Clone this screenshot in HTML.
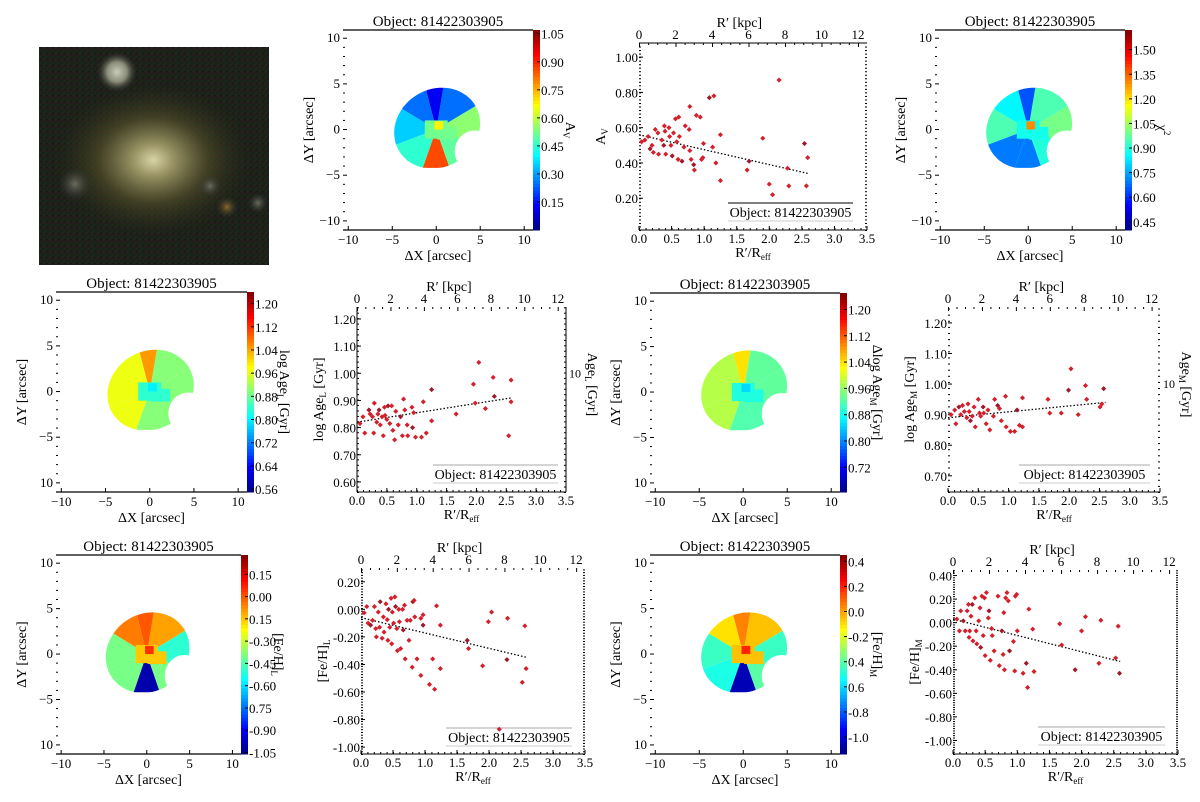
<!DOCTYPE html>
<html><head><meta charset="utf-8">
<style>
html,body{margin:0;padding:0;background:#fff;}
svg{display:block;font-family:"Liberation Serif","DejaVu Serif",serif;}
</style></head>
<body>
<svg id="fig" width="1200" height="802" viewBox="0 0 1200 802" xmlns="http://www.w3.org/2000/svg">
<defs>
<radialGradient id="gBulge" cx="50%" cy="50%" r="50%"><stop offset="0" stop-color="#d8d4a8"/><stop offset="0.2" stop-color="#9a9464"/><stop offset="0.55" stop-color="#4a4828" stop-opacity="0.8"/><stop offset="1" stop-color="#262818" stop-opacity="0"/></radialGradient>
<radialGradient id="gStar" cx="50%" cy="50%" r="50%"><stop offset="0" stop-color="#c8ccbc"/><stop offset="0.5" stop-color="#8a8c78"/><stop offset="1" stop-color="#333" stop-opacity="0"/></radialGradient>
<radialGradient id="gSmall" cx="50%" cy="50%" r="50%"><stop offset="0" stop-color="#6a6c5c"/><stop offset="1" stop-color="#333" stop-opacity="0"/></radialGradient>
<radialGradient id="gOr" cx="50%" cy="50%" r="50%"><stop offset="0" stop-color="#8a6a28"/><stop offset="1" stop-color="#333" stop-opacity="0"/></radialGradient>
<pattern id="noise" width="6" height="6" patternUnits="userSpaceOnUse"><rect width="6" height="6" fill="#1c2016"/><rect x="0" y="0" width="2" height="2" fill="#2a1a22"/><rect x="3" y="2" width="2" height="2" fill="#142a1c"/><rect x="1" y="4" width="2" height="2" fill="#262618"/><rect x="4" y="5" width="2" height="1" fill="#101a24"/></pattern>
</defs>
<g>
<rect x="39" y="47" width="230" height="218" fill="url(#noise)"/>
<ellipse cx="153" cy="160" rx="100" ry="78" fill="url(#gBulge)"/>
<circle cx="117" cy="72" r="20" fill="url(#gStar)"/>
<circle cx="75" cy="184" r="17" fill="url(#gSmall)"/>
<circle cx="210" cy="186" r="11" fill="url(#gSmall)"/>
<circle cx="227" cy="207" r="11" fill="url(#gOr)"/>
<circle cx="258" cy="203" r="10" fill="url(#gSmall)"/>
</g>
</svg>
<script>
// ---------- DATA ----------
const sectorStarts = [-20, 30, 80, 105, 150, 200, 250, 290];
const avSectors = [0.55, 0.25, 0.12, 0.25, 0.35, 0.45, 0.86, 0.50];
const avInner = [0.52, 0.68];
const chiSectors = [1.00, 0.95, 0.65, 0.85, 0.95, 0.70, 0.70, 0.90];
const chiInner = [0.88, 1.30];
const ageLSectors = [0.90, 0.90, 1.05, 0.97, 0.97, 0.97, 0.90, 0.90];
const ageLInner = [0.84, 0.80];
const ageMSectors = [0.93, 0.93, 1.04, 0.98, 0.98, 0.98, 0.92, 0.92];
const ageMInner = [0.89, 0.85];
const fehLSectors = [-0.50, -0.10, 0.00, -0.05, -0.40, -0.40, -1.00, -0.40];
const fehLInner = [-0.15, 0.05];
const fehMSectors = [-0.45, -0.05, 0.05, -0.10, -0.45, -0.50, -1.05, -0.40];
const fehMInner = [-0.05, 0.20];

const cbAvTicks = [0.15,0.30,0.45,0.60,0.75,0.90,1.05];
const cbChiTicks = [0.45,0.60,0.75,0.90,1.05,1.20,1.35,1.50];
const cbAgeLTicks = [0.56,0.64,0.72,0.80,0.88,0.96,1.04,1.12,1.20];
const cbAgeMTicks = [0.72,0.80,0.88,0.96,1.04,1.12,1.20];
const cbFehLTicks = [-1.05,-0.90,-0.75,-0.60,-0.45,-0.30,-0.15,0.00,0.15];
const cbFehLLabels = ["-1.05","-0.90","0.75","-0.60","-0.45","-0.30","0.15","0.00","0.15"];
const cbFehMTicks = [-1.0,-0.8,-0.6,-0.4,-0.2,0.0,0.2,0.4];
const cbFehMLabels = ["-1.0","-0.8","0.6","0.4","-0.2","0.0","0.2","0.4"];

const avX = [0.04,0.09,0.14,0.17,0.2,0.22,0.25,0.29,0.30,0.35,0.38,0.39,0.40,0.41,0.46,0.47,0.49,0.51,0.53,0.56,0.58,0.60,0.61,0.62,0.66,0.69,0.71,0.77,0.78,0.78,0.80,0.84,0.85,0.88,0.94,0.96,0.98,0.99,1.08,1.13,1.15,1.18,1.25,1.25,1.66,1.69,1.9,2.0,2.05,2.15,2.28,2.3,2.54,2.57,2.59];
const avY = [0.52,0.53,0.55,0.48,0.50,0.46,0.59,0.57,0.45,0.53,0.50,0.61,0.58,0.45,0.60,0.55,0.50,0.44,0.57,0.65,0.52,0.42,0.66,0.55,0.41,0.49,0.61,0.59,0.47,0.72,0.42,0.39,0.36,0.67,0.66,0.42,0.43,0.51,0.77,0.49,0.78,0.40,0.56,0.30,0.36,0.41,0.54,0.28,0.22,0.87,0.37,0.27,0.51,0.27,0.43];
const avTrend = [0.56, 0.34];

const ageLX = [0.05,0.10,0.13,0.20,0.22,0.26,0.28,0.29,0.33,0.35,0.37,0.39,0.42,0.44,0.46,0.47,0.50,0.52,0.55,0.58,0.60,0.63,0.65,0.69,0.73,0.76,0.78,0.80,0.84,0.85,0.92,0.93,0.95,0.98,1.08,1.11,1.16,1.25,1.25,1.66,1.95,1.98,2.04,2.15,2.28,2.30,2.54,2.58,2.58];
const ageLY = [0.815,0.84,0.78,0.865,0.85,0.84,0.78,0.89,0.82,0.85,0.865,0.81,0.84,0.77,0.875,0.845,0.83,0.88,0.815,0.88,0.79,0.755,0.86,0.81,0.84,0.77,0.905,0.865,0.81,0.77,0.875,0.80,0.855,0.765,0.765,0.895,0.78,0.825,0.94,0.85,0.96,0.89,1.04,0.87,0.985,0.915,0.77,0.975,0.895];
const ageLTrend = [0.82, 0.91];

const ageMX = [0.05,0.11,0.13,0.18,0.21,0.24,0.27,0.31,0.33,0.35,0.37,0.40,0.43,0.45,0.50,0.52,0.54,0.58,0.59,0.63,0.66,0.69,0.75,0.77,0.82,0.85,0.88,0.95,0.96,1.03,1.10,1.14,1.18,1.23,1.23,1.65,1.68,1.87,1.99,2.03,2.15,2.27,2.29,2.51,2.54,2.57];
const ageMY = [0.90,0.915,0.87,0.925,0.90,0.93,0.91,0.89,0.935,0.91,0.88,0.895,0.925,0.86,0.95,0.905,0.895,0.925,0.905,0.87,0.915,0.85,0.895,0.95,0.93,0.92,0.88,0.96,0.86,0.845,0.845,0.915,0.865,0.86,0.955,0.95,0.905,0.905,0.98,1.05,0.90,0.995,0.95,0.925,0.935,0.985];
const ageMTrend = [0.89, 0.94];

const fehLX = [0.05,0.09,0.11,0.15,0.18,0.21,0.23,0.24,0.27,0.29,0.30,0.33,0.35,0.36,0.39,0.41,0.42,0.43,0.45,0.47,0.48,0.49,0.51,0.53,0.54,0.56,0.57,0.59,0.60,0.62,0.65,0.66,0.68,0.69,0.72,0.75,0.77,0.80,0.81,0.83,0.84,0.875,0.935,0.935,0.97,0.97,1.07,1.12,1.15,1.18,1.24,1.24,1.66,1.68,1.90,1.99,2.04,2.16,2.29,2.28,2.52,2.56,2.58];
const fehLY = [-0.025,0.02,-0.10,-0.115,-0.08,0.02,-0.14,-0.20,-0.02,-0.13,0.055,-0.21,-0.055,-0.165,0.04,-0.075,-0.225,0.0,-0.13,0.08,-0.25,-0.02,-0.10,0.09,0.02,-0.14,-0.30,0.0,-0.09,-0.285,0.0,-0.15,0.03,-0.36,-0.08,-0.225,-0.08,-0.42,0.055,0.065,-0.055,-0.36,-0.065,-0.48,-0.04,-0.115,-0.545,-0.36,-0.58,0.025,-0.115,-0.43,-0.225,-0.285,-0.41,-0.09,-0.02,-0.87,-0.065,-0.365,-0.53,-0.12,-0.43];
const fehLTrend = [-0.06, -0.35];

const fehMX = [0.06,0.10,0.12,0.16,0.19,0.22,0.24,0.25,0.26,0.28,0.30,0.31,0.34,0.36,0.37,0.40,0.42,0.43,0.45,0.47,0.49,0.50,0.52,0.55,0.56,0.58,0.60,0.61,0.64,0.70,0.72,0.76,0.78,0.79,0.80,0.82,0.84,0.86,0.88,0.94,0.96,0.97,0.99,1.00,1.09,1.14,1.16,1.18,1.24,1.26,1.66,1.69,1.90,2.0,2.06,2.27,2.30,2.53,2.57,2.59];
const fehMY = [0.03,-0.07,0.10,0.015,-0.07,0.10,0.155,-0.125,-0.07,0.055,0.155,-0.155,0.21,-0.07,-0.18,0.015,0.125,-0.21,0.225,-0.11,0.21,-0.28,0.255,0.04,0.10,-0.32,-0.05,-0.11,-0.24,0.225,-0.365,-0.07,-0.27,0.085,-0.40,0.21,0.255,0.185,-0.24,-0.16,-0.41,0.225,0.24,-0.07,-0.43,-0.345,-0.55,0.115,-0.055,-0.415,-0.01,-0.19,-0.40,-0.07,0.05,-0.345,0.02,-0.30,-0.03,-0.43];
const fehMTrend = [0.03, -0.33];

const rTicks = [0.0,0.5,1.0,1.5,2.0,2.5,3.0,3.5];
const kpcTicks = [0,2,4,6,8,10,12];
const mapTicks = [-10,-5,0,5,10];
const avYTicks = [0.20,0.40,0.60,0.80,1.00];
const ageLYTicks = [0.60,0.70,0.80,0.90,1.00,1.10,1.20];
const ageMYTicks = [0.70,0.80,0.90,1.00,1.10,1.20];
const fehLYTicks = [-1.00,-0.80,-0.60,-0.40,-0.20,0.00,0.20];
const fehLYLabels = ["-1.00","-0.80","-0.60","-0.40","-0.20","0.00","0.20"];
const fehMYTicks = [-1.00,-0.80,-0.60,-0.40,-0.20,0.00,0.20,0.40];
const kpcPerReff = 3.57;

// ---------- HELPERS ----------
const NS = "http://www.w3.org/2000/svg";
const svg = document.getElementById('fig');
function mk(tag, attrs, parent) {
  const e = document.createElementNS(NS, tag);
  for (const k in attrs) e.setAttribute(k, attrs[k]);
  (parent || svg).appendChild(e);
  return e;
}
function txt(s, x, y, size, anchor, parent, rot) {
  const t = mk('text', {x: x, y: y, 'font-size': size, 'text-anchor': anchor || 'middle', fill: '#000'}, parent);
  if (rot) t.setAttribute('transform', 'rotate(' + rot + ' ' + x + ' ' + y + ')');
  t.innerHTML = s;
  return t;
}
function jet(v) {
  v = Math.max(0, Math.min(1, v));
  const r = Math.max(0, Math.min(1, 1.5 - Math.abs(4 * v - 3)));
  const g = Math.max(0, Math.min(1, 1.5 - Math.abs(4 * v - 2)));
  const b = Math.max(0, Math.min(1, 1.5 - Math.abs(4 * v - 1)));
  return 'rgb(' + Math.round(r * 255) + ',' + Math.round(g * 255) + ',' + Math.round(b * 255) + ')';
}
function lin(d0, d1, p0, p1) { return v => p0 + (v - d0) / (d1 - d0) * (p1 - p0); }

let maskId = 0;
function drawMap(cfg) {
  const g = mk('g', {});
  
  
  const sx = lin(-10.6, 11, cfg.L, cfg.R), sy = lin(10.9, -11, cfg.T, cfg.B);
  const id = 'm' + (maskId++);
  const m = mk('mask', {id: id}, svg.querySelector('defs'));
  let pts = [];
  const th = 25 * Math.PI / 180;
  for (let i = 0; i < 72; i++) {
    const t = i / 72 * 2 * Math.PI;
    const ex = 5.0 * Math.cos(t), ey = 4.3 * Math.sin(t);
    let x = 0.1 + ex * Math.cos(th) - ey * Math.sin(th);
    let y = 0.15 + ex * Math.sin(th) + ey * Math.cos(th);
    if (y < -4.2) y = -4.2;
    pts.push(sx(x).toFixed(1) + ',' + sy(y).toFixed(1));
  }
  mk('polygon', {points: pts.join(' '), fill: '#fff'}, m);
  mk('ellipse', {cx: sx(4.4), cy: sy(-2.4), rx: (sx(2.3) - sx(0)), ry: (sy(0) - sy(2.3)), fill: '#000'}, m);
  const blob = mk('g', {mask: 'url(#' + id + ')'}, g);
  const vmap = v => jet((v - cfg.vmin) / (cfg.vmax - cfg.vmin));
  for (let i = 0; i < sectorStarts.length; i++) {
    const a0 = sectorStarts[i] * Math.PI / 180;
    const a1 = (i + 1 < sectorStarts.length ? sectorStarts[i + 1] : sectorStarts[0] + 360) * Math.PI / 180;
    const r = 9;
    const d = 'M' + sx(0) + ',' + sy(0) + ' L' + sx(r * Math.cos(a0)) + ',' + sy(r * Math.sin(a0)) +
      ' A' + (sx(r) - sx(0)) + ',' + (sy(0) - sy(r)) + ' 0 0 0 ' + sx(r * Math.cos(a1)) + ',' + sy(r * Math.sin(a1)) + ' Z';
    const p = mk('path', {d: d, fill: vmap(cfg.sectors[i])}, blob);
    
    
  }
  mk('rect', {x: sx(-1.3), y: sy(1.0), width: sx(2.6) - sx(0), height: sy(0) - sy(2.0), fill: vmap(cfg.inner[0])}, blob);
  mk('rect', {x: sx(0.1), y: sy(0.3), width: sx(2.2) - sx(0), height: sy(0) - sy(1.4), fill: vmap(cfg.inner[0])}, blob);
  mk('rect', {x: sx(-0.2), y: sy(0.9), width: sx(1.0) - sx(0), height: sy(0) - sy(0.9), fill: vmap(cfg.inner[1])}, blob);
  // axes
  mk('line', {x1: cfg.L, y1: cfg.T, x2: cfg.R, y2: cfg.T, stroke: '#000', 'stroke-width': 1.2}, g);
  mk('line', {x1: cfg.L, y1: cfg.B, x2: cfg.R, y2: cfg.B, stroke: '#000', 'stroke-width': 1.2}, g);
  for (let v = -11; v <= 10; v++) {
    const y = sy(v);
    mk('line', {x1: cfg.L, y1: y, x2: cfg.L + (v % 5 === 0 ? 4 : 2), y2: y, stroke: '#000', 'stroke-width': 1}, g);
  }
  mapTicks.forEach(v => {
    mk('line', {x1: sx(v), y1: cfg.B, x2: sx(v), y2: cfg.B - 4, stroke: '#000'}, g);
    txt(v < 0 ? '\u2212' + (-v) : v, sx(v), cfg.B + 14, 13, 'middle', g);
    const lab = (v === -10 && cfg.noMinus) ? '10' : (v < 0 ? '\u2212' + (-v) : '' + v);
    txt(lab, cfg.L - 3, sy(v) + 4, 13, 'end', g);
  });
  txt('\u0394X [arcsec]', (cfg.L + cfg.R) / 2, cfg.B + 30, 14, 'middle', g);
  txt('\u0394Y [arcsec]', cfg.L - 30, (cfg.T + cfg.B) / 2, 14, 'middle', g, -90);
  txt('Object: 81422303905', (cfg.L + cfg.R) / 2, cfg.T - 4, 15, 'middle', g);
  const cb = mk('g', {}, g);
  
  
  const n = 60, h = (cfg.B - cfg.T) / n;
  for (let i = 0; i < n; i++) mk('rect', {x: cfg.R, y: cfg.B - (i + 1) * h, width: 7, height: h + 0.5, fill: jet((i + 0.5) / n)}, cb);
  const cy = lin(cfg.vmin, cfg.vmax, cfg.B, cfg.T);
  cfg.cbTicks.forEach((v, i) => {
    mk('line', {x1: cfg.R + 7, y1: cy(v), x2: cfg.R + 4, y2: cy(v), stroke: '#000'}, cb);
    const lab = cfg.cbLabels ? cfg.cbLabels[i] : v.toFixed(2);
    txt(lab, cfg.R + 8, cy(v) + 5, 13, 'start', cb);
  });
  txt(cfg.cbLabel, cfg.R + 33, (cfg.T + cfg.B) / 2, 14, 'middle', cb, 90);
}

function drawScatter(cfg) {
  const g = mk('g', {});
  
  
  const sx = lin(0, 3.5, cfg.L, cfg.R), sy = lin(cfg.ymin, cfg.ymax, cfg.B, cfg.T);
  const st = {stroke: '#000', 'stroke-width': 1};
  mk('line', Object.assign({x1: cfg.L, y1: cfg.B, x2: cfg.R, y2: cfg.B}, st), g);
  if (cfg.topSolid) mk('line', Object.assign({x1: cfg.L, y1: cfg.T, x2: cfg.R, y2: cfg.T}, st), g);
  if (cfg.leftSolid) mk('line', Object.assign({x1: cfg.L, y1: cfg.T, x2: cfg.L, y2: cfg.B}, st), g);
  if (cfg.rightSolid) mk('line', Object.assign({x1: cfg.R, y1: cfg.T, x2: cfg.R, y2: cfg.B}, st), g);
  for (let v = cfg.ymin; v <= cfg.ymax; v += 0.02) {
    mk('rect', {x: cfg.L, y: sy(v), width: 2, height: 1, fill: '#000'}, g);
    mk('rect', {x: cfg.R - 2, y: sy(v), width: 2, height: 1, fill: '#000'}, g);
  }
  for (let k = 0; k <= 12.6; k += 0.5) {
    const x = sx(k / kpcPerReff);
    if (x <= cfg.R) mk('rect', {x: x, y: cfg.T, width: 1, height: (k % 2 === 0 ? 4 : 2), fill: '#000'}, g);
  }
  for (let v = 0; v <= 3.5; v += 0.1) mk('rect', {x: sx(v), y: cfg.B - 2, width: 1, height: 2, fill: '#000'}, g);
  rTicks.forEach(v => {
    mk('line', {x1: sx(v), y1: cfg.B, x2: sx(v), y2: cfg.B - 4, stroke: '#000'}, g);
    txt(v.toFixed(1), sx(v), cfg.B + 13, 13, 'middle', g);
  });
  kpcTicks.forEach(k => txt('' + k, sx(k / kpcPerReff), cfg.T - 4, 13, 'middle', g));
  cfg.yTicks.forEach((v, i) => {
    mk('line', {x1: cfg.L, y1: sy(v), x2: cfg.L + 4, y2: sy(v), stroke: '#000'}, g);
    txt(cfg.yLabels ? cfg.yLabels[i] : v.toFixed(2), cfg.L - 1, sy(v) + 5, 13, 'end', g);
  });
  txt('R\u2032 [kpc]', sx(5.5 / kpcPerReff), cfg.T - 16, 14, 'middle', g);
  txt('R\u2032/R<tspan font-size="9" dy="3">eff</tspan>', (cfg.L + cfg.R) / 2, cfg.B + 27, 14, 'middle', g);
  txt(cfg.yLabel, cfg.L - 34, (cfg.T + cfg.B) / 2, 14, 'middle', g, -90);
  if (cfg.rLabel) {
    txt('10', cfg.R + 3, sy(cfg.rTick) + 4, 12, 'start', g);
    txt(cfg.rLabel, cfg.R + 22, (cfg.T + cfg.B) / 2 - 15, 14, 'middle', g, 90);
  }
  const lg = mk('g', {}, g);
  
  
  mk('line', {x1: cfg.leg[0], y1: cfg.leg[1], x2: cfg.leg[2], y2: cfg.leg[1], stroke: cfg.legTopDark ? '#000' : '#aaa'}, lg);
  mk('line', {x1: cfg.leg[0], y1: cfg.leg[1] + 18, x2: cfg.leg[2], y2: cfg.leg[1] + 18, stroke: '#ccc'}, lg);
  txt('Object: 81422303905', (cfg.leg[0] + cfg.leg[2]) / 2, cfg.leg[1] + 14, 14, 'middle', lg);
  const tr = mk('line', {x1: sx(0), y1: sy(cfg.trend[0]), x2: sx(2.6), y2: sy(cfg.trend[1]), stroke: '#000', 'stroke-width': 1.3, 'stroke-dasharray': '1.5,2'}, g);
  
  
  cfg.xs.forEach((x, i) => {
    const c = mk('rect', {x: sx(x) - 1.8, y: sy(cfg.ys[i]) - 1.8, width: 3.6, height: 3.6, fill: (i % 7 === 3 ? '#a0182a' : '#d4202c'), transform: 'rotate(45 ' + sx(x) + ' ' + sy(cfg.ys[i]) + ')'}, g);
    
    
  });
}

// ---------- PANELS ----------
drawMap({name: 'av-map', L: 343, R: 533, T: 30, B: 230, vmin: 0, vmax: 1.07, sectors: avSectors, inner: avInner, cbTicks: cbAvTicks, cbLabel: 'A<tspan font-size="9" dy="3">V</tspan>'});
drawScatter({name: 'av-scatter', L: 639, R: 867, T: 43, B: 230, ymin: 0.02, ymax: 1.08, yTicks: avYTicks, yLabel: 'A<tspan font-size="9" dy="3">V</tspan>', xs: avX, ys: avY, trend: avTrend, topSolid: true, leg: [728, 203, 853], legTopDark: true});
drawMap({name: 'chi2-map', L: 935, R: 1125, T: 30, B: 230, vmin: 0.40, vmax: 1.62, sectors: chiSectors, inner: chiInner, cbTicks: cbChiTicks, cbLabel: '\u03c7<tspan font-size="9" dy="-6">2</tspan>'});

drawMap({name: 'agel-map', L: 56, R: 247, T: 292, B: 492, vmin: 0.55, vmax: 1.24, sectors: ageLSectors, inner: ageLInner, cbTicks: cbAgeLTicks, cbLabel: 'log Age<tspan font-size="9" dy="3">L</tspan><tspan dy="-3"> [Gyr]</tspan>', noMinus: true});
drawScatter({name: 'agel-scatter', L: 357, R: 566, T: 307, B: 492, ymin: 0.563, ymax: 1.244, yTicks: ageLYTicks, yLabel: 'log Age<tspan font-size="9" dy="3">L</tspan><tspan dy="-3"> [Gyr]</tspan>', xs: ageLX, ys: ageLY, trend: ageLTrend, leftSolid: true, rightSolid: true, leg: [433, 465, 558], rLabel: 'Age<tspan font-size="9" dy="3">L</tspan><tspan dy="-3"> [Gyr]</tspan>', rTick: 1.0});
drawMap({name: 'agem-map', L: 650, R: 840, T: 293, B: 492, vmin: 0.645, vmax: 1.25, sectors: ageMSectors, inner: ageMInner, cbTicks: cbAgeMTicks, cbLabel: '\u0394log Age<tspan font-size="9" dy="3">M</tspan><tspan dy="-3"> [Gyr]</tspan>', noMinus: true});
drawScatter({name: 'agem-scatter', L: 948, R: 1160, T: 307, B: 492, ymin: 0.647, ymax: 1.252, yTicks: ageMYTicks, yLabel: 'log Age<tspan font-size="9" dy="3">M</tspan><tspan dy="-3"> [Gyr]</tspan>', xs: ageMX, ys: ageMY, trend: ageMTrend, leg: [1019, 465, 1150], rLabel: 'Age<tspan font-size="9" dy="3">M</tspan><tspan dy="-3"> [Gyr]</tspan>', rTick: 1.0});

drawMap({name: 'fehl-map', L: 56, R: 241, T: 555, B: 754, vmin: -1.06, vmax: 0.28, sectors: fehLSectors, inner: fehLInner, cbTicks: cbFehLTicks, cbLabels: cbFehLLabels, cbLabel: '[Fe/H]<tspan font-size="9" dy="3">L</tspan>', noMinus: true});
drawScatter({name: 'fehl-scatter', L: 361, R: 585, T: 568, B: 754, ymin: -1.05, ymax: 0.30, yTicks: fehLYTicks, yLabels: fehLYLabels, yLabel: '[Fe/H]<tspan font-size="9" dy="3">L</tspan>', xs: fehLX, ys: fehLY, trend: fehLTrend, leg: [446, 728, 572]});
drawMap({name: 'fehm-map', L: 650, R: 840, T: 555, B: 754, vmin: -1.135, vmax: 0.45, sectors: fehMSectors, inner: fehMInner, cbTicks: cbFehMTicks, cbLabels: cbFehMLabels, cbLabel: '[Fe/H]<tspan font-size="9" dy="3">M</tspan>', noMinus: true});
drawScatter({name: 'fehm-scatter', L: 953, R: 1178, T: 570, B: 754, ymin: -1.115, ymax: 0.447, yTicks: fehMYTicks, yLabel: '[Fe/H]<tspan font-size="9" dy="3">M</tspan>', xs: fehMX, ys: fehMY, trend: fehMTrend, leg: [1038, 727, 1165]});
</script>
</body></html>
